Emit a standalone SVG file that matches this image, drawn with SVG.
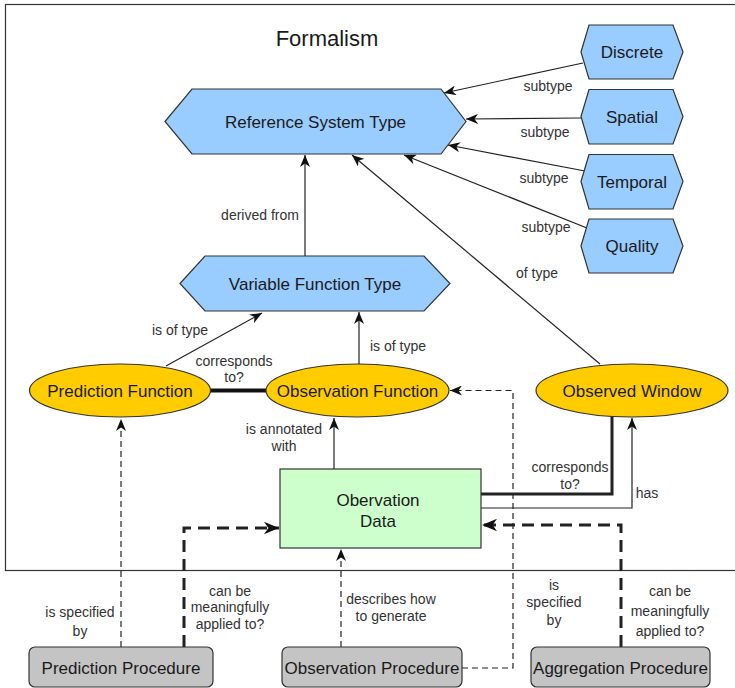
<svg xmlns="http://www.w3.org/2000/svg" width="735" height="688" viewBox="0 0 735 688">
<style>
  text { font-family: "Liberation Sans", Arial, sans-serif; fill: #1a1a1a; text-anchor: middle; }
  .node { font-size: 17px; }
  .lbl { font-size: 14px; fill: #333; }
  .title { font-size: 22px; }
  .hex { fill: #99ccff; stroke: #333; stroke-width: 1.2; }
  .fn { fill: #ffcc00; stroke: #333; stroke-width: 1.2; }
  .data { fill: #ccffcc; stroke: #333; stroke-width: 1.2; }
  .proc { fill: #c4c4c4; stroke: #333; stroke-width: 1.2; }
  .e { fill: none; stroke: #222; stroke-width: 1.2; }
  .thick { fill: none; stroke: #111; stroke-width: 4; }
  .dash { fill: none; stroke: #222; stroke-width: 1.2; stroke-dasharray: 6 4; }
  .tdash { fill: none; stroke: #222; stroke-width: 3; stroke-dasharray: 12 7; }
</style>
<defs>
  <marker id="arr" viewBox="0 0 12 10" refX="12" refY="5" markerWidth="12" markerHeight="10" markerUnits="userSpaceOnUse" orient="auto">
    <path d="M0,0 L12,5 L0,10 L3.5,5 Z" fill="#111"/>
  </marker>
  <marker id="arrL" viewBox="0 0 12 10" refX="12" refY="5" markerWidth="15" markerHeight="13" markerUnits="userSpaceOnUse" orient="auto">
    <path d="M0,0 L12,5 L0,10 L3.5,5 Z" fill="#111"/>
  </marker>
</defs>

<rect x="5.5" y="4.5" width="740" height="566" fill="#fff" stroke="#333" stroke-width="1.2"/>
<text class="title" x="327" y="46">Formalism</text>

<g id="connectors">
  <path class="e" d="M583,63 L444,93" marker-end="url(#arr)"/>
  <path class="e" d="M581,118 L466,119" marker-end="url(#arr)"/>
  <path class="e" d="M585,171 L448,145" marker-end="url(#arr)"/>
  <path class="e" d="M587,228 L404,155" marker-end="url(#arr)"/>
  <path class="e" d="M600,364 L352,155" marker-end="url(#arr)"/>
  <path class="e" d="M305,256 L305,155" marker-end="url(#arr)"/>
  <path class="e" d="M166,366 L262,313" marker-end="url(#arr)"/>
  <path class="e" d="M359,364 L359,312" marker-end="url(#arr)"/>
  <path class="thick" d="M210,390.5 L266,390.5"/>
  <path class="e" d="M334,469 L334,418" marker-end="url(#arr)"/>
  <path class="e" d="M481,494 L612,494 L612,416" style="stroke-width:3"/>
  <path class="e" d="M481,508 L632,508 L632,418" marker-end="url(#arr)"/>
  <path class="dash" d="M462,668 L513,668 L513,390.5 L450,390.5" marker-end="url(#arr)"/>
  <path class="dash" d="M341,647 L341,549" marker-end="url(#arr)"/>
  <path class="dash" d="M121,647 L121,419" marker-end="url(#arr)"/>
  <path class="tdash" d="M184,647 L184,528 L279,528" marker-end="url(#arrL)"/>
  <path class="tdash" d="M621,647 L621,525 L482,525" marker-end="url(#arrL)"/>

  <text class="lbl" x="548" y="91">subtype</text>
  <text class="lbl" x="545" y="137">subtype</text>
  <text class="lbl" x="544" y="183">subtype</text>
  <text class="lbl" x="546" y="232">subtype</text>
  <text class="lbl" x="537" y="278">of type</text>
  <text class="lbl" x="260" y="220">derived from</text>
  <text class="lbl" x="180" y="335">is of type</text>
  <text class="lbl" x="398" y="351">is of type</text>
  <text class="lbl" x="234" y="366">corresponds</text>
  <text class="lbl" x="234" y="382">to?</text>
  <text class="lbl" x="284" y="434">is annotated</text>
  <text class="lbl" x="284" y="451">with</text>
  <text class="lbl" x="570" y="472">corresponds</text>
  <text class="lbl" x="570" y="489">to?</text>
  <text class="lbl" x="647" y="498">has</text>
  <text class="lbl" x="80" y="617">is specified</text>
  <text class="lbl" x="80" y="636">by</text>
  <text class="lbl" x="230" y="596">can be</text>
  <text class="lbl" x="230" y="612">meaningfully</text>
  <text class="lbl" x="230" y="629">applied to?</text>
  <text class="lbl" x="391" y="604">describes how</text>
  <text class="lbl" x="391" y="621">to generate</text>
  <text class="lbl" x="554" y="590">is</text>
  <text class="lbl" x="554" y="607">specified</text>
  <text class="lbl" x="554" y="625">by</text>
  <text class="lbl" x="670" y="596">can be</text>
  <text class="lbl" x="670" y="616">meaningfully</text>
  <text class="lbl" x="670" y="636">applied to?</text>
</g>

<g id="reference-system-type">
  <polygon class="hex" points="165,121.5 192,89 441,89 466,121.5 441,154 192,154"/>
  <text class="node" x="315.5" y="127.5">Reference System Type</text>
</g>
<g id="discrete">
  <polygon class="hex" points="581,52 589,25 673,25 683,52 673,79 589,79"/>
  <text class="node" x="632" y="58">Discrete</text>
</g>
<g id="spatial">
  <polygon class="hex" points="581,116.5 589,89.5 673,89.5 683,116.5 673,144 589,144"/>
  <text class="node" x="632" y="122.5">Spatial</text>
</g>
<g id="temporal">
  <polygon class="hex" points="581,181.5 589,154.5 673,154.5 683,181.5 673,209 589,209"/>
  <text class="node" x="632" y="187.5">Temporal</text>
</g>
<g id="quality">
  <polygon class="hex" points="581,246 589,219 673,219 683,246 673,273 589,273"/>
  <text class="node" x="632" y="252">Quality</text>
</g>
<g id="variable-function-type">
  <polygon class="hex" points="180,283.5 205,256 424,256 450,283.5 424,311 205,311"/>
  <text class="node" x="315" y="289.5">Variable Function Type</text>
</g>
<g id="prediction-function">
  <ellipse class="fn" cx="120" cy="390.5" rx="90.5" ry="26.5"/>
  <text class="node" x="120" y="396.5">Prediction Function</text>
</g>
<g id="observation-function">
  <ellipse class="fn" cx="357.5" cy="390.5" rx="91.5" ry="26.5"/>
  <text class="node" x="357.5" y="396.5">Observation Function</text>
</g>
<g id="observed-window">
  <ellipse class="fn" cx="632" cy="390.5" rx="96" ry="26.5"/>
  <text class="node" x="632" y="396.5">Observed Window</text>
</g>
<g id="observation-data">
  <rect class="data" x="280" y="469" width="201" height="79"/>
  <text class="node" x="378" y="506">Obervation</text>
  <text class="node" x="378" y="527">Data</text>
</g>
<g id="prediction-procedure">
  <rect class="proc" x="29" y="647" width="184" height="40" rx="6"/>
  <text class="node" x="121" y="674">Prediction Procedure</text>
</g>
<g id="observation-procedure">
  <rect class="proc" x="282" y="647" width="180" height="40" rx="6"/>
  <text class="node" x="372" y="674">Observation Procedure</text>
</g>
<g id="aggregation-procedure">
  <rect class="proc" x="531" y="647" width="179" height="40" rx="6"/>
  <text class="node" x="620.5" y="674">Aggregation Procedure</text>
</g>
</svg>
